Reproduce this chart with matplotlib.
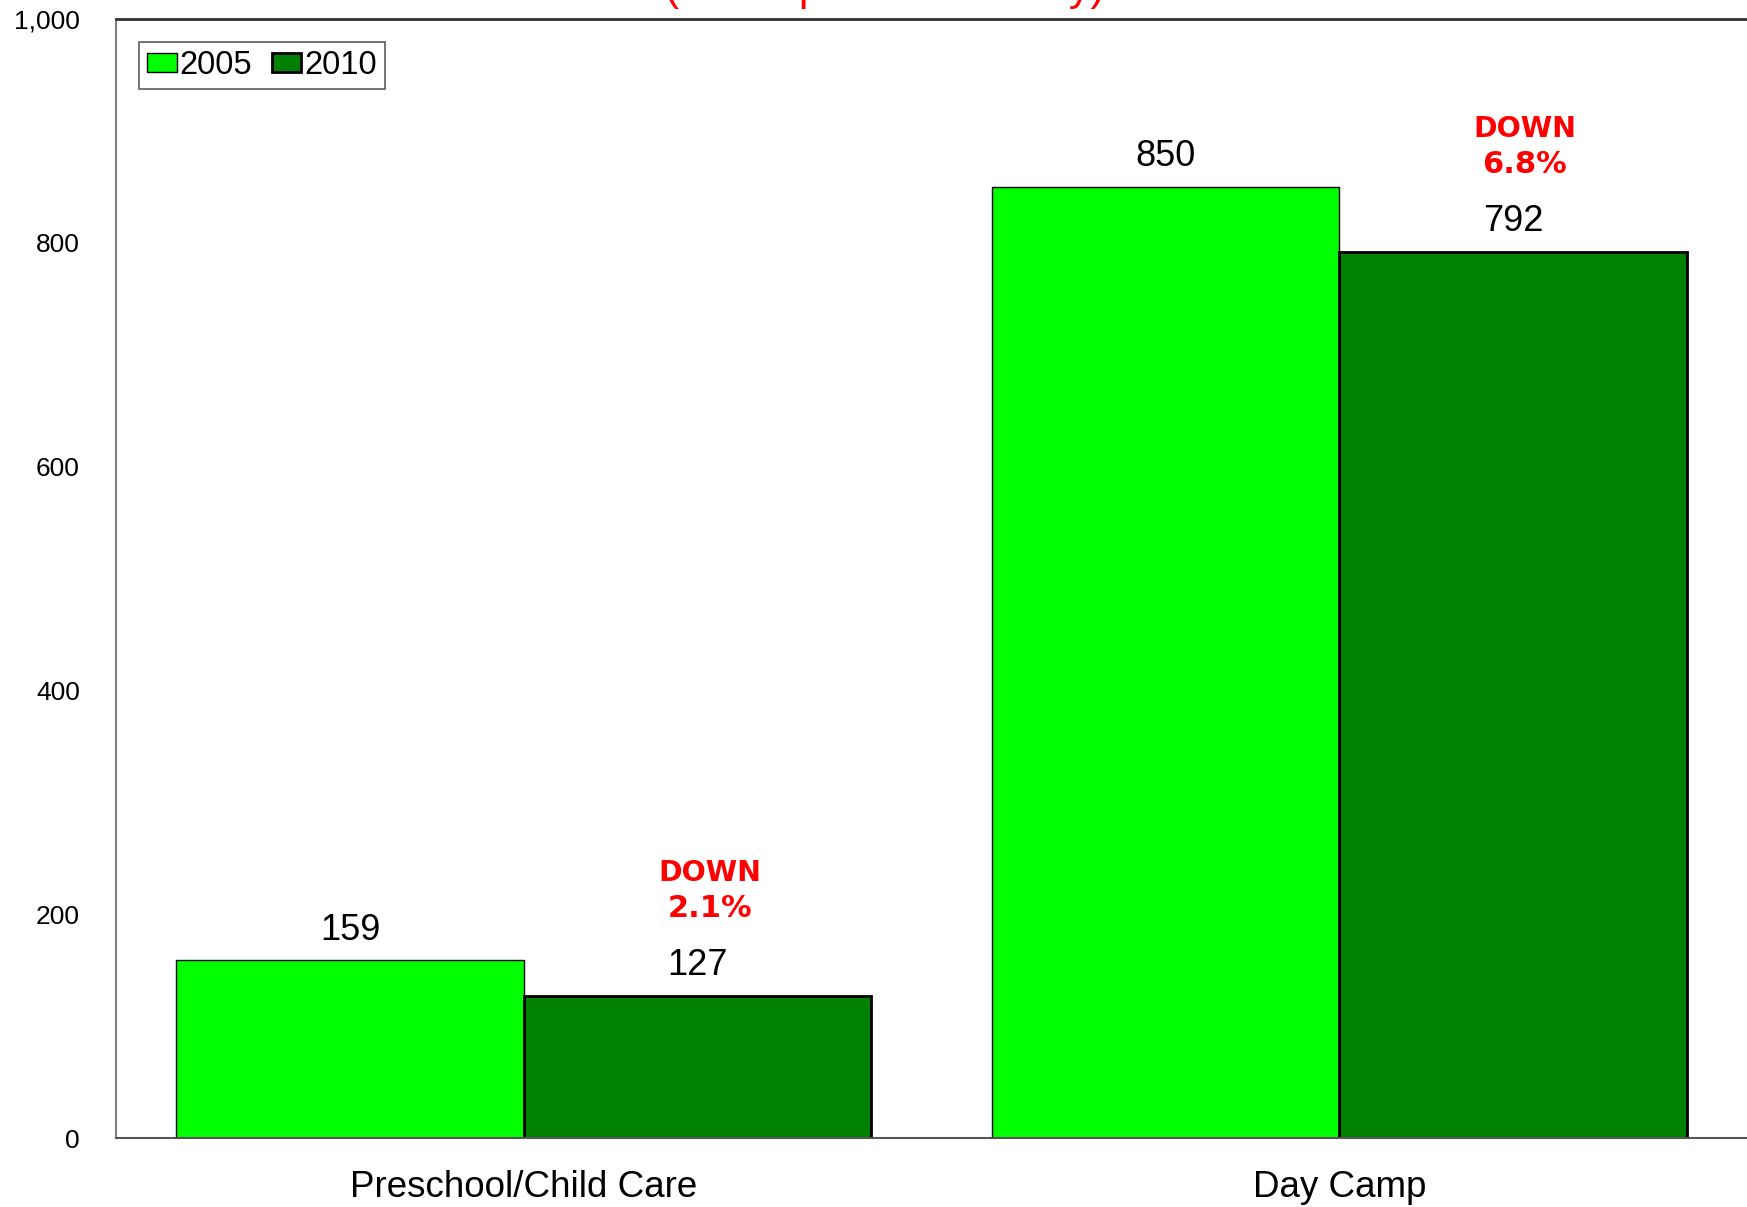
import matplotlib
matplotlib.use("Agg")
import matplotlib.pyplot as plt
import numpy as np
from matplotlib.ticker import FuncFormatter

categories = ["Preschool/Child Care", "Day Camp"]
years = ["2005", "2010"]
values_2005 = [159, 850]
values_2010 = [127, 792]
changes = ["DOWN\n2.1%", "DOWN\n6.8%"]
yticks = [0, 200, 400, 600, 800, 1000]
title = "(Mean per Community)"

plt.rcParams['font.family'] = ['Liberation Sans', 'DejaVu Sans']

W, H = 1747, 1207
fig = plt.figure(figsize=(W / 100, H / 100), dpi=100)
ax = fig.add_axes([116 / W, (H - 1138) / H, (W - 116) / W, (1138 - 19) / H])

x = np.arange(len(categories))
w = 0.426
ax.bar(x - w / 2, values_2005, w, color='#00FF00', edgecolor='black', linewidth=1.0, label=years[0])
ax.bar(x + w / 2, values_2010, w, color='#008000', edgecolor='black', linewidth=2.0, label=years[1])

ax.set_xlim(-0.5, 1.5)
ax.set_ylim(0, 1000)
ax.set_yticks(yticks)
ax.yaxis.set_major_formatter(FuncFormatter(lambda v, p: f"{int(v):,}"))
ax.tick_params(axis='y', length=0, pad=26, labelsize=19)
ax.set_xticks(x)
ax.set_xticklabels(categories, fontsize=26.5)
ax.tick_params(axis='x', length=0, pad=23)

ax.spines['right'].set_visible(False)
ax.spines['left'].set_color('#808080')
ax.spines['left'].set_linewidth(1.5)
ax.spines['top'].set_color('#333333')
ax.spines['top'].set_linewidth(2)
ax.spines['bottom'].set_color('#555555')
ax.spines['bottom'].set_linewidth(1.5)

for i in range(len(categories)):
    ax.annotate(str(values_2005[i]), xy=(x[i] - w / 2, values_2005[i]), xytext=(0, 30 * 0.72),
                textcoords='offset points', ha='center', va='center', fontsize=26)
    ax.annotate(str(values_2010[i]), xy=(x[i] + w / 2, values_2010[i]), xytext=(0, 30 * 0.72),
                textcoords='offset points', ha='center', va='center', fontsize=26)
    line1, line2 = changes[i].split("\n")
    ax.annotate(line1, xy=(x[i] + w / 2, values_2010[i]), xytext=(12 * 0.72, 123 * 0.72),
                textcoords='offset points', ha='center', va='center', fontsize=20.5,
                color='#FF0000', fontweight='bold', family=['DejaVu Sans'])
    ax.annotate(line2, xy=(x[i] + w / 2, values_2010[i]), xytext=(12 * 0.72, 87 * 0.72),
                textcoords='offset points', ha='center', va='center', fontsize=22,
                color='#FF0000', fontweight='bold', family=['DejaVu Sans'])

leg = ax.legend(loc='upper left', bbox_to_anchor=(139 / W, 1 - 42 / H), bbox_transform=fig.transFigure,
                ncol=2, fontsize=23.5, frameon=True, fancybox=False, borderaxespad=0,
                handlelength=0.9, handleheight=0.55, handletextpad=0.1, columnspacing=0.6,
                borderpad=0.25)
leg.get_frame().set_edgecolor('#333333')
leg.get_frame().set_linewidth(1.2)

fig.text(885 / W, 1.0, title, ha='center', va='baseline', color='#FF0000', fontsize=31)

fig.savefig("out.png", dpi=100)
